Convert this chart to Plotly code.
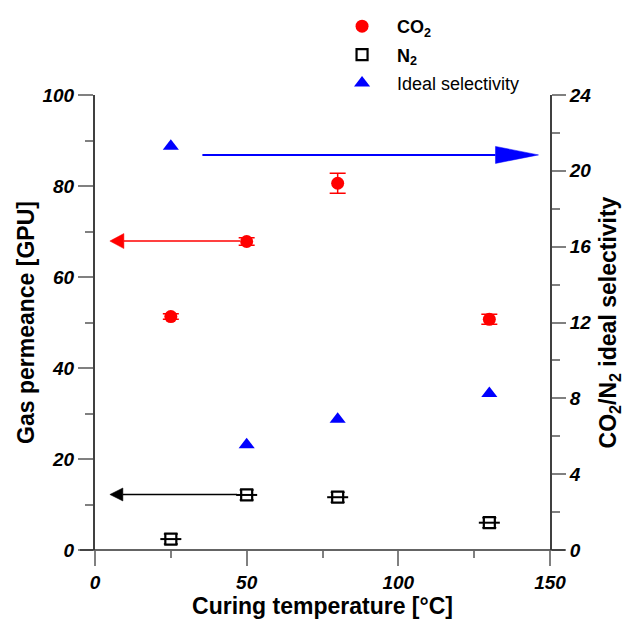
import plotly.graph_objects as go

# ---------------- data ----------------
temps = [25, 50, 80, 130]
co2 = [51.3, 67.8, 80.6, 50.7]
co2_err = [0.6, 0.8, 2.2, 1.1]
n2 = [2.4, 12.1, 11.6, 6.0]
n2_err = [1.1, 1.1, 1.1, 1.1]
sel = [21.3, 5.55, 6.9, 8.25]

x_ticks = [0, 50, 100, 150]
y_ticks = [0, 20, 40, 60, 80, 100]
y2_ticks = [0, 4, 8, 12, 16, 20, 24]

FONT = "Liberation Sans, Arial, sans-serif"

# plot geometry (px) for arrow head sizing
L, R, T, B = 95, 74, 95, 69
W, H = 624, 619
PW, PH = W - L - R, H - T - B
XR, YR, Y2R = 150.0, 100.0, 24.0
px_x = PW / XR
px_y = PH / YR
px_y2 = PH / Y2R

fig = go.Figure()

fig.add_trace(go.Scatter(
    x=temps, y=co2, mode="markers", name="<b>CO<sub>2</sub></b>",
    marker=dict(symbol="circle", size=13, color="#ff0000"),
    error_y=dict(type="data", array=co2_err, color="#ff0000", thickness=1.5, width=8),
    legendgroup="a",
))
fig.add_trace(go.Scatter(
    x=temps, y=n2, mode="markers", name="<b>N<sub>2</sub></b>",
    marker=dict(symbol="square", size=11, color="white", line=dict(color="black", width=2.2)),
    error_y=dict(type="data", array=n2_err, color="black", thickness=1.5, width=7),
    legendgroup="b",
))
fig.add_trace(go.Scatter(
    x=temps, y=n2, mode="markers", showlegend=False, hoverinfo="skip",
    marker=dict(symbol="line-ew-open", size=15, color="black", line=dict(color="black", width=2)),
))
fig.add_trace(go.Scatter(
    x=temps, y=sel, mode="markers", name="Ideal selectivity", yaxis="y2",
    marker=dict(symbol="triangle-up", size=14, color="#0000ff"),
    legendgroup="c",
))

shapes = []


def arrow(x_start, x_tip, yv, yref, ppy, color, lw, head_len_px, head_half_px):
    direction = 1 if x_tip > x_start else -1
    base = x_tip - direction * head_len_px / px_x
    half = head_half_px / ppy
    shapes.append(dict(type="line", xref="x", yref=yref, x0=x_start, x1=base,
                       y0=yv, y1=yv, line=dict(color=color, width=lw)))
    shapes.append(dict(type="path", xref="x", yref=yref,
                       path=f"M {base},{yv - half} L {x_tip},{yv} L {base},{yv + half} Z",
                       fillcolor=color, line=dict(color=color, width=0.5)))


arrow(47.8, 4.9, 67.9, "y", px_y, "#ff0000", 1.5, 14, 7.5)
arrow(46.8, 4.9, 12.2, "y", px_y, "black", 1.5, 13, 6.5)
arrow(35.4, 146.2, 20.84, "y2", px_y2, "#0000ff", 2, 43, 8.5)

# bottom axis line extending beyond the frame
shapes.append(dict(type="line", xref="paper", yref="paper", x0=-15 / PW, x1=1 + 15 / PW,
                   y0=0, y1=0, line=dict(color="#303030", width=1.5), layer="above"))

tickfont = dict(family=FONT, size=19, color="black", weight="bold", style="italic")
titlefont = dict(family=FONT, size=23, color="black", weight="bold")

fig.update_layout(
    width=W, height=H,
    margin=dict(l=L, r=R, t=T, b=B, pad=0, autoexpand=False),
    paper_bgcolor="white", plot_bgcolor="white",
    font=dict(family=FONT, color="black"),
    shapes=shapes,
    showlegend=True,
    legend=dict(x=0.51, y=1 + (T - 8) / PH, xanchor="left", yanchor="top",
                font=dict(family=FONT, size=18, color="black"), itemwidth=60,
                bgcolor="rgba(0,0,0,0)", tracegroupgap=2, traceorder="grouped"),
    xaxis=dict(
        range=[0, 150], tickmode="array", tickvals=x_ticks, ticktext=[str(v) for v in x_ticks],
        showgrid=False, zeroline=False, showline=False, automargin=False,
        ticks="outside", ticklen=15, tickwidth=1.5, tickcolor="#808080",
        minor=dict(dtick=25, tick0=0, ticks="outside", ticklen=7, tickwidth=1.5, tickcolor="#808080", showgrid=False),
        tickfont=tickfont,
        title=dict(text="Curing temperature [°C]", font=titlefont, standoff=3),
    ),
    yaxis=dict(
        range=[0, 100], tickmode="array", tickvals=y_ticks, ticktext=[str(v) for v in y_ticks],
        showgrid=False, zeroline=False, showline=True, linecolor="#404040", linewidth=2, automargin=False,
        ticks="outside", ticklen=15, tickwidth=1.5, tickcolor="#808080",
        minor=dict(dtick=10, tick0=0, ticks="outside", ticklen=8, tickwidth=1.5, tickcolor="#808080", showgrid=False),
        tickfont=tickfont,
        title=dict(text="Gas permeance [GPU]", font=titlefont, standoff=1),
    ),
    yaxis2=dict(
        range=[0, 24], overlaying="y", side="right", anchor="x", automargin=False,
        tickmode="array", tickvals=y2_ticks, ticktext=[str(v) for v in y2_ticks],
        showgrid=False, zeroline=False, showline=True, linecolor="#404040", linewidth=2,
        ticks="outside", ticklen=14, tickwidth=1.5, tickcolor="#808080",
        minor=dict(dtick=2, tick0=0, ticks="outside", ticklen=8, tickwidth=1.5, tickcolor="#808080", showgrid=False),
        tickfont=tickfont,
        title=dict(text="CO<sub>2</sub>/N<sub>2</sub> ideal selectivity", font=titlefont, standoff=10),
    ),
)

fig.write_html("out.html")
